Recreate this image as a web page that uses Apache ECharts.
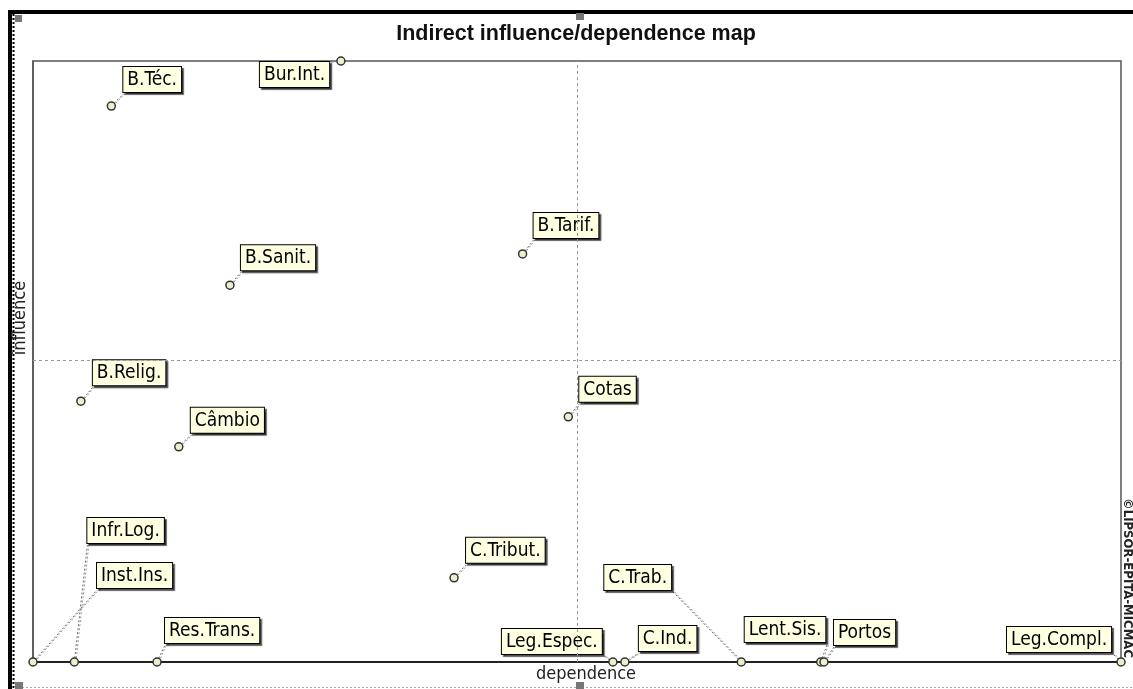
<!DOCTYPE html>
<html><head><meta charset="utf-8">
<script src="https://cdn.jsdelivr.net/npm/echarts@6/dist/echarts.min.js"></script>
<style>html,body{margin:0;padding:0;background:#fff}#c{width:1133px;height:689px}</style>
</head><body><div id="c"></div>
<script>
// Variables (MICMAC indirect influence / dependence)
const variables = ['B.Téc.','Bur.Int.','B.Sanit.','B.Tarif.','B.Relig.','Câmbio','Cotas','Infr.Log.','Inst.Ins.','Res.Trans.','C.Tribut.','Leg.Espec.','C.Ind.','C.Trab.','Lent.Sis.','Portos','Leg.Compl.'];
const dependence = [7.2, 28.3, 18.1, 45.0, 4.4, 13.4, 49.2, 3.8, 0, 11.4, 38.7, 53.3, 54.4, 65.1, 72.4, 72.7, 100];
const influence  = [92.5, 100, 62.7, 67.9, 43.4, 35.8, 40.8, 0, 0, 0, 14.0, 0, 0, 0, 0, 0, 0];
const meanDependence = 50.0;
const meanInfluence = 50.2;
// label box offsets (px) from each point
const labelOffsets = [[12,-39],[-81,1],[11,-40],[11,-41],[12,-41],[12,-39],[11,-40],[13,-144],[64,-99],[8,-44],[12,-40],[-111,-33],[14,-36],[-137,-97],[-76,-45],[10,-42],[-114,-35]];

const FONT = "'Liberation Sans Narrow','DejaVu Sans Condensed','Arial Narrow',sans-serif";
const labelBoxes = [];
const points = variables.map((v, i) => ({name: v, value: [dependence[i], influence[i]]}));

const chart = echarts.init(document.getElementById('c'), null, {renderer:'canvas'});
const scatterSeries = {
  type: 'scatter',
  clip: false,
  symbol: 'circle', symbolSize: 8,
  itemStyle: {color: '#eeeecc', borderColor: '#333', borderWidth: 1.5, opacity: 1},
  data: points,
  label: {
    show: true, formatter: '{b}',
    fontFamily: FONT, fontSize: 19, lineHeight: 20, color: '#000',
    backgroundColor: '#ffffe1', borderColor: '#000', borderWidth: 1,
    padding: [3, 4, 2, 4],
    shadowColor: 'rgba(0,0,0,0.6)', shadowOffsetX: 2, shadowOffsetY: 2, shadowBlur: 1
  },
  labelLayout: function (p) {
    labelBoxes[p.dataIndex] = [p.labelRect.width, p.labelRect.height];
    const o = labelOffsets[p.dataIndex];
    const cx = p.rect.x + p.rect.width / 2, cy = p.rect.y + p.rect.height / 2;
    return {x: cx + o[0], y: cy + o[1], align: 'left', verticalAlign: 'top'};
  },
  markLine: {
    silent: true, symbol: 'none', animation: false,
    label: {show: false},
    lineStyle: {color: '#999', type: [3, 3], width: 1},
    data: [{xAxis: meanDependence}, {yAxis: meanInfluence}]
  },
  z: 3
};
const leaderSeries = {
  type: 'custom', clip: false, silent: true, z: 2,
  data: points,
  renderItem: function (params, api) {
    const i = params.dataIndex;
    const p = api.coord([api.value(0), api.value(1)]);
    const o = labelOffsets[i], b = labelBoxes[i] || [0, 0];
    const bx = p[0] + o[0], by = p[1] + o[1];
    const corners = [[bx, by], [bx + b[0], by], [bx, by + b[1]], [bx + b[0], by + b[1]]];
    let best = corners[0], bd = Infinity;
    corners.forEach(c => { const d = (c[0]-p[0])**2 + (c[1]-p[1])**2; if (d < bd) { bd = d; best = c; } });
    return {type: 'group', children: [
      {type: 'line', shape: {x1: p[0], y1: p[1], x2: best[0], y2: best[1]}, style: {stroke: '#6e6e6e', lineWidth: 1, lineDash: [2, 2]}},
      {type: 'line', shape: {x1: p[0] + 1.5, y1: p[1], x2: best[0] + 1.5, y2: best[1]}, style: {stroke: '#9a9a9a', lineWidth: 1, lineDash: [2, 2]}}
    ]};
  }
};
const option = {
  animation: false,
  backgroundColor: '#fff',
  title: {
    text: 'Indirect influence/dependence map',
    left: 571, top: 18, textAlign: 'center',
    textStyle: {fontFamily: "'Liberation Sans',Arial,sans-serif", fontSize: 21.5, fontWeight: 'bold', color: '#111'}
  },
  grid: {left: 33, right: 12, top: 61, bottom: 27, show: true, borderColor: '#555', borderWidth: 1.5, backgroundColor: '#fff'},
  xAxis: {
    type: 'value', min: 0, max: 100,
    axisLine: {show: true, onZero: false, lineStyle: {color: '#222', width: 2}},
    axisTick: {show: false}, axisLabel: {show: false}, splitLine: {show: false},
    name: 'dependence', nameLocation: 'middle', nameGap: 3,
    nameTextStyle: {fontFamily: FONT, fontSize: 18, color: '#222', padding: [0,0,0,18]}
  },
  yAxis: {
    type: 'value', min: 0, max: 100,
    axisLine: {show: true, onZero: false, lineStyle: {color: '#555', width: 1.5}},
    axisTick: {show: false}, axisLabel: {show: false}, splitLine: {show: false}
  },
  graphic: [
    {type: 'rect', shape: {x: 8, y: 10, width: 1125, height: 4}, style: {fill: '#000'}, silent: true},
    {type: 'rect', shape: {x: 8, y: 10, width: 4, height: 679}, style: {fill: '#000'}, silent: true},
    {type: 'line', shape: {x1: 13.5, y1: 14, x2: 13.5, y2: 689}, style: {stroke: '#000', lineWidth: 2, lineDash: [2,2]}, silent: true},
    {type: 'line', shape: {x1: 14, y1: 687.5, x2: 1133, y2: 687.5}, style: {stroke: '#aaa', lineWidth: 1, lineDash: [2,2]}, silent: true},
    {type: 'rect', shape: {x: 15, y: 15, width: 7, height: 7}, style: {fill: '#777'}, silent: true},
    {type: 'rect', shape: {x: 576, y: 13, width: 8, height: 7}, style: {fill: '#777'}, silent: true},
    {type: 'rect', shape: {x: 15, y: 682, width: 8, height: 7}, style: {fill: '#777'}, silent: true},
    {type: 'rect', shape: {x: 576, y: 682, width: 8, height: 7}, style: {fill: '#777'}, silent: true},
    {type: 'text', x: 20, y: 318, rotation: Math.PI/2, silent: true,
      style: {text: 'influence', fontFamily: FONT, fontSize: 18, fill: '#222', align: 'center', verticalAlign: 'middle'}},
    {type: 'text', x: 1127, y: 578, rotation: -Math.PI/2, silent: true,
      style: {text: '©LIPSOR-EPITA-MICMAC', fontFamily: FONT, fontSize: 13, fontWeight: 'bold', fill: '#222', align: 'center', verticalAlign: 'middle'}}
  ],
  series: [scatterSeries]
};
chart.setOption(option);
// second pass: leader lines to the measured label boxes
option.series = [scatterSeries, leaderSeries];
chart.setOption(option, true);
</script></body></html>
